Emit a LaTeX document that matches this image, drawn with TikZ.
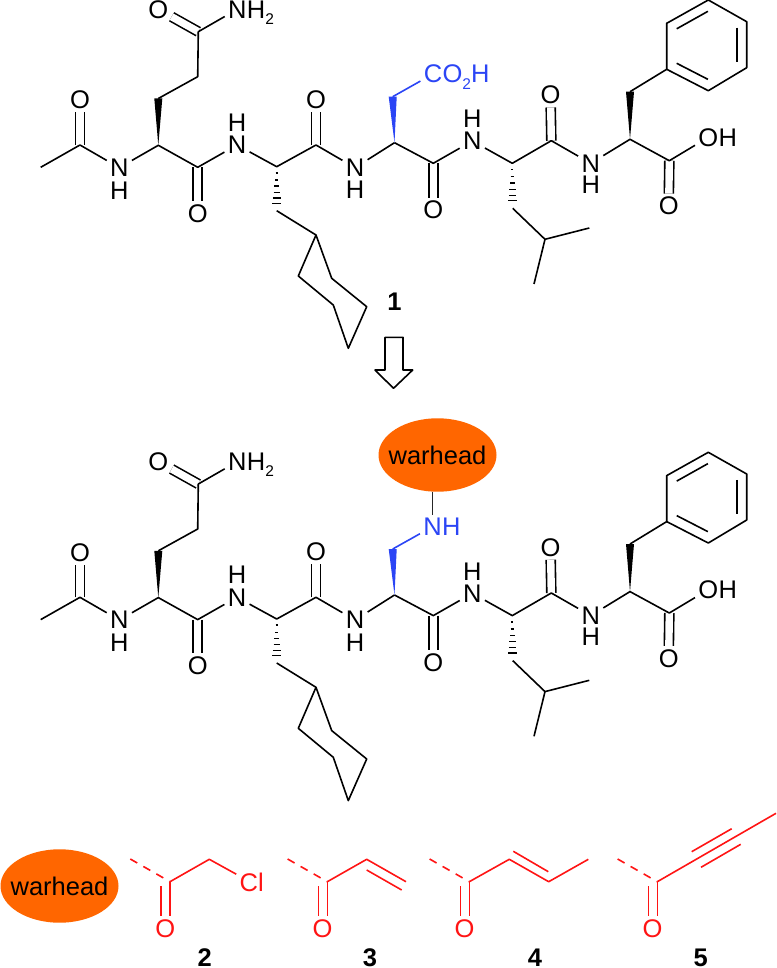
\documentclass[tikz,border=0pt]{standalone}
\usepackage{fontspec}
\setmainfont{Liberation Sans}
\usetikzlibrary{calc,shapes.geometric}

\definecolor{acidblue}{HTML}{2B45F5}
\definecolor{headred}{HTML}{FF1414}
\definecolor{headorange}{HTML}{FF6600}

\newcommand{\atomfont}{\fontsize{25.5}{25.5}\selectfont}
\newcommand{\subtwo}{\raisebox{-6.5pt}{\fontsize{15.5}{15.5}\selectfont 2}}

\tikzset{
    bond/.style={line width=1.6pt, line join=round},
    dblbond/.style={line width=1.6pt, double, double distance=7.4pt},
    atom/.style={inner sep=3.2pt, font=\atomfont},
    tail/.style={inner sep=0pt, font=\atomfont, anchor=base west},
    cpd/.style={inner sep=0pt, font=\atomfont\bfseries},
    warhead/.style={ellipse, fill=headorange, inner sep=0pt, minimum width=118pt,
        minimum height=73.4pt, font=\atomfont}
}

% wedge and hashed bond, both vertical here
\newcommand{\wedgebond}[3]{\fill[#3] (#2) ++(-4,0) -- ++(8,0) -- (#1) -- cycle;}
\newcommand{\hashbond}[2]{
    \foreach \t/\w in {0.14/1, 0.3/1.7, 0.44/2.4, 0.58/3.1, 0.71/3.8, 0.83/4.5}
        \draw[line width=1.4pt] ($(#1)!\t!(#2)$) ++(-\w,0) -- ++(2*\w,0);
}

% the chain shared by both peptides
\newcommand{\peptide}[1]{
        \coordinate (#1me) at (40.7, 167.3);
        \coordinate (#1ac) at (80, 145);
        \node[atom] (#1oa) at (80, 100) {O};
        \node[atom] (#1n1) at (119.3, 167.7) {N};
        \node[atom] (#1h1) at (119.3, 190.7) {H};
        \coordinate (#1ca1) at (158.3, 145.3);
        \coordinate (#1co1) at (197.7, 167.3);
        \node[atom] (#1o1) at (197.7, 213.3) {O};
        \node[atom] (#1n2) at (237, 145) {N};
        \node[atom] (#1h2) at (237, 122.5) {H};
        \coordinate (#1ca2) at (276.7, 166.7);
        \coordinate (#1co2) at (316, 145);
        \node[atom] (#1o2) at (316, 99.3) {O};
        \node[atom] (#1n3) at (355, 167.7) {N};
        \node[atom] (#1h3) at (355, 190) {H};
        \coordinate (#1ca3) at (394.5, 142.7);
        \coordinate (#1co3) at (433.3, 163.3);
        \node[atom] (#1o3) at (433.3, 210) {O};
        \node[atom] (#1n4) at (472.3, 141) {N};
        \node[atom] (#1h4) at (472.3, 119) {H};
        \coordinate (#1ca4) at (512.3, 163.3);
        \coordinate (#1co4) at (551.3, 140.7);
        \node[atom] (#1o4) at (550.5, 95) {O};
        \node[atom] (#1n5) at (590.7, 163.3) {N};
        \node[atom] (#1h5) at (590.7, 184.5) {H};
        \coordinate (#1ca5) at (630, 139.3);
        \coordinate (#1co5) at (669.3, 160.7);
        \node[atom] (#1o5) at (668.7, 206) {O};
        \node[atom] (#1oh) at (708.3, 137.3) {O};
        \node[tail] (#1oht) at ([xshift=-3.2pt]#1oh.base east) {H};

        % glutamine arm
        \coordinate (#1cb1) at (158.3, 98.5);
        \coordinate (#1cg1) at (197.7, 76.7);
        \coordinate (#1cd1) at (198.3, 31.7);
        \node[atom] (#1o6) at (158.3, 9.3) {O};
        \node[atom] (#1n6) at (237.3, 9.3) {N};
        \node[tail] (#1n6t) at ([xshift=-3.2pt]#1n6.base east) {H\subtwo};

        % cyclohexyl arm
        \coordinate (#1cb2) at (276.7, 210.7);
        \coordinate (#1c1) at (316, 235);
        \coordinate (#1c2) at (298.3, 276);
        \coordinate (#1c3) at (333.3, 305);
        \coordinate (#1c4) at (348.3, 348.3);
        \coordinate (#1c5) at (366.7, 306.7);
        \coordinate (#1c6) at (331.7, 278.3);

        % leucine arm
        \coordinate (#1cb4) at (512.7, 208.3);
        \coordinate (#1cg4) at (545, 239.3);
        \coordinate (#1me1) at (589.3, 228);
        \coordinate (#1me2) at (534, 284);

        % phenyl arm
        \coordinate (#1cb5) at (630, 91.7);
        \coordinate (#1r1) at (666.7, 69.3);
        \coordinate (#1r2) at (666.7, 23.3);
        \coordinate (#1r3) at (708.3, 0);
        \coordinate (#1r4) at (746.7, 21.7);
        \coordinate (#1r5) at (746.7, 67.7);
        \coordinate (#1r6) at (708.3, 90.7);
        \coordinate (#1rc) at (706.7, 45.3);

        \draw[dblbond] (#1ac) -- (#1oa);
        \draw[dblbond] (#1co1) -- (#1o1);
        \draw[dblbond] (#1co2) -- (#1o2);
        \draw[dblbond] (#1co3) -- (#1o3);
        \draw[dblbond] (#1co4) -- (#1o4);
        \draw[dblbond] (#1co5) -- (#1o5);
        \draw[dblbond] (#1cd1) -- (#1o6);

        \draw[bond] (#1me) -- (#1ac) -- (#1n1) -- (#1ca1) -- (#1co1) -- (#1n2) -- (#1ca2) -- (#1co2) -- (#1n3) -- (#1ca3);
        \draw[bond] (#1ca3) -- (#1co3) -- (#1n4) -- (#1ca4) -- (#1co4) -- (#1n5) -- (#1ca5) -- (#1co5) -- (#1oh);

        \wedgebond{#1ca1}{#1cb1}{black}
        \draw[bond] (#1cb1) -- (#1cg1) -- (#1cd1) -- (#1n6);

        \hashbond{#1ca2}{#1cb2}
        \draw[bond] (#1cb2) -- (#1c1);
        \draw[bond] (#1c1) -- (#1c2) -- (#1c3) -- (#1c4) -- (#1c5) -- (#1c6) -- cycle;

        \hashbond{#1ca4}{#1cb4}
        \draw[bond] (#1cb4) -- (#1cg4) -- (#1me1);
        \draw[bond] (#1cg4) -- (#1me2);

        \wedgebond{#1ca5}{#1cb5}{black}
        \draw[bond] (#1cb5) -- (#1r1);
        \draw[bond] (#1r1) -- (#1r2) -- (#1r3) -- (#1r4) -- (#1r5) -- (#1r6) -- cycle;
        \draw[bond] ($(#1r2)!0.25!(#1rc)$) -- ($(#1r3)!0.25!(#1rc)$);
        \draw[bond] ($(#1r4)!0.25!(#1rc)$) -- ($(#1r5)!0.25!(#1rc)$);
        \draw[bond] ($(#1r6)!0.25!(#1rc)$) -- ($(#1r1)!0.25!(#1rc)$);
}

% dashed stub and C=O of a warhead, red colour comes from the scope
\newcommand{\ketone}[1]{
        \coordinate (#1s) at (-39.7, -22.7);
        \coordinate (#1c) at (0, 0);
        \coordinate (#1d) at (-9, 4.5);
        \node[atom] (#1o) at (-4.7, 46.6) {O};
        \draw[bond, dash pattern=on 8pt off 7pt] (#1s) -- (#1c);
        \draw[bond] (#1c) -- (#1c |- #1o.north);
        \draw[bond] (#1d) -- (#1d |- #1o.north);
}

\begin{document}
\begin{tikzpicture}[x=1pt, y=-1pt]
        \useasboundingbox (0, 0) rectangle (776, 968);

        % compound 1
        \begin{scope}
                \peptide{a}
        \end{scope}
        \node[atom, text=acidblue] (cacid) at (433, 74) {C};
        \node[tail, text=acidblue] (cacidt) at ([xshift=-3.2pt]cacid.base east) {O\subtwo H};
        \coordinate (bacid) at (392.7, 96.7);
        \wedgebond{aca3}{bacid}{acidblue}
        \draw[bond, acidblue] (bacid) -- (cacid);
        \node[cpd] (lab1) at (394.5, 302) {1};

        \draw[bond] (385, 337.3) -- (385, 370) -- (375, 370) -- (393.5, 388.3) -- (412.7, 370) -- (403, 370) -- (403, 337.3) -- cycle;

        % warhead peptide
        \begin{scope}[shift={(0, 452.3)}]
                \peptide{b}
        \end{scope}
        \node[warhead] (head1) at (437.5, 455) {\makebox[0pt]{warhead}};
        \node[atom, text=acidblue] (namine) at (432.5, 526.7) {N};
        \node[tail, text=acidblue] (naminet) at ([xshift=-3.2pt]namine.base east) {H};
        \coordinate (bamine) at (392.7, 549);
        \wedgebond{bca3}{bamine}{acidblue}
        \draw[bond, acidblue] (bamine) -- (namine);
        \draw[bond, black!85] (namine) -- (namine |- head1.south);

        % warheads
        \node[warhead] (head2) at (59.5, 886) {\makebox[0pt]{warhead}};

        \begin{scope}[shift={(170, 881.7)}, headred]
                \ketone{p}
                \coordinate (pb) at (39.3, -22.4);
                \node[atom, text=headred] (pcl) at (81.7, 1) {Cl};
                \draw[bond] (pc) -- (pb) -- (pcl);
        \end{scope}
        \node[cpd] (lab2) at (204.7, 957.5) {2};

        \begin{scope}[shift={(327.3, 881.7)}, headred]
                \ketone{q}
                \coordinate (qb) at (39.4, -22.4);
                \coordinate (qe) at (78.7, 0);
                \coordinate (qb2) at (39.4, -11.7);
                \coordinate (qe2) at (74.4, 8.3);
                \draw[bond] (qc) -- (qb) -- (qe);
                \draw[bond] (qb2) -- (qe2);
        \end{scope}
        \node[cpd] (lab3) at (370, 957.5) {3};

        \begin{scope}[shift={(469.3, 881.7)}, headred]
                \ketone{r}
                \coordinate (rb) at (40, -22.4);
                \coordinate (re) at (79.4, 0);
                \coordinate (rm) at (119, -22.4);
                \coordinate (rb2) at (44, -30.4);
                \coordinate (re2) at (79, -10);
                \draw[bond] (rc) -- (rb) -- (re) -- (rm);
                \draw[bond] (rb2) -- (re2);
        \end{scope}
        \node[cpd] (lab4) at (535, 957.5) {4};

        \begin{scope}[shift={(657.3, 881.7)}, headred]
                \ketone{t}
                \coordinate (te) at (118.7, -68.4);
                \coordinate (tu1) at (34.4, -30);
                \coordinate (tu2) at (74.4, -53);
                \coordinate (tv1) at (43.7, -14.4);
                \coordinate (tv2) at (83.4, -37.4);
                \draw[bond] (tc) -- (te);
                \draw[bond] (tu1) -- (tu2);
                \draw[bond] (tv1) -- (tv2);
        \end{scope}
        \node[cpd] (lab5) at (700.7, 957.5) {5};
\end{tikzpicture}
\end{document}
